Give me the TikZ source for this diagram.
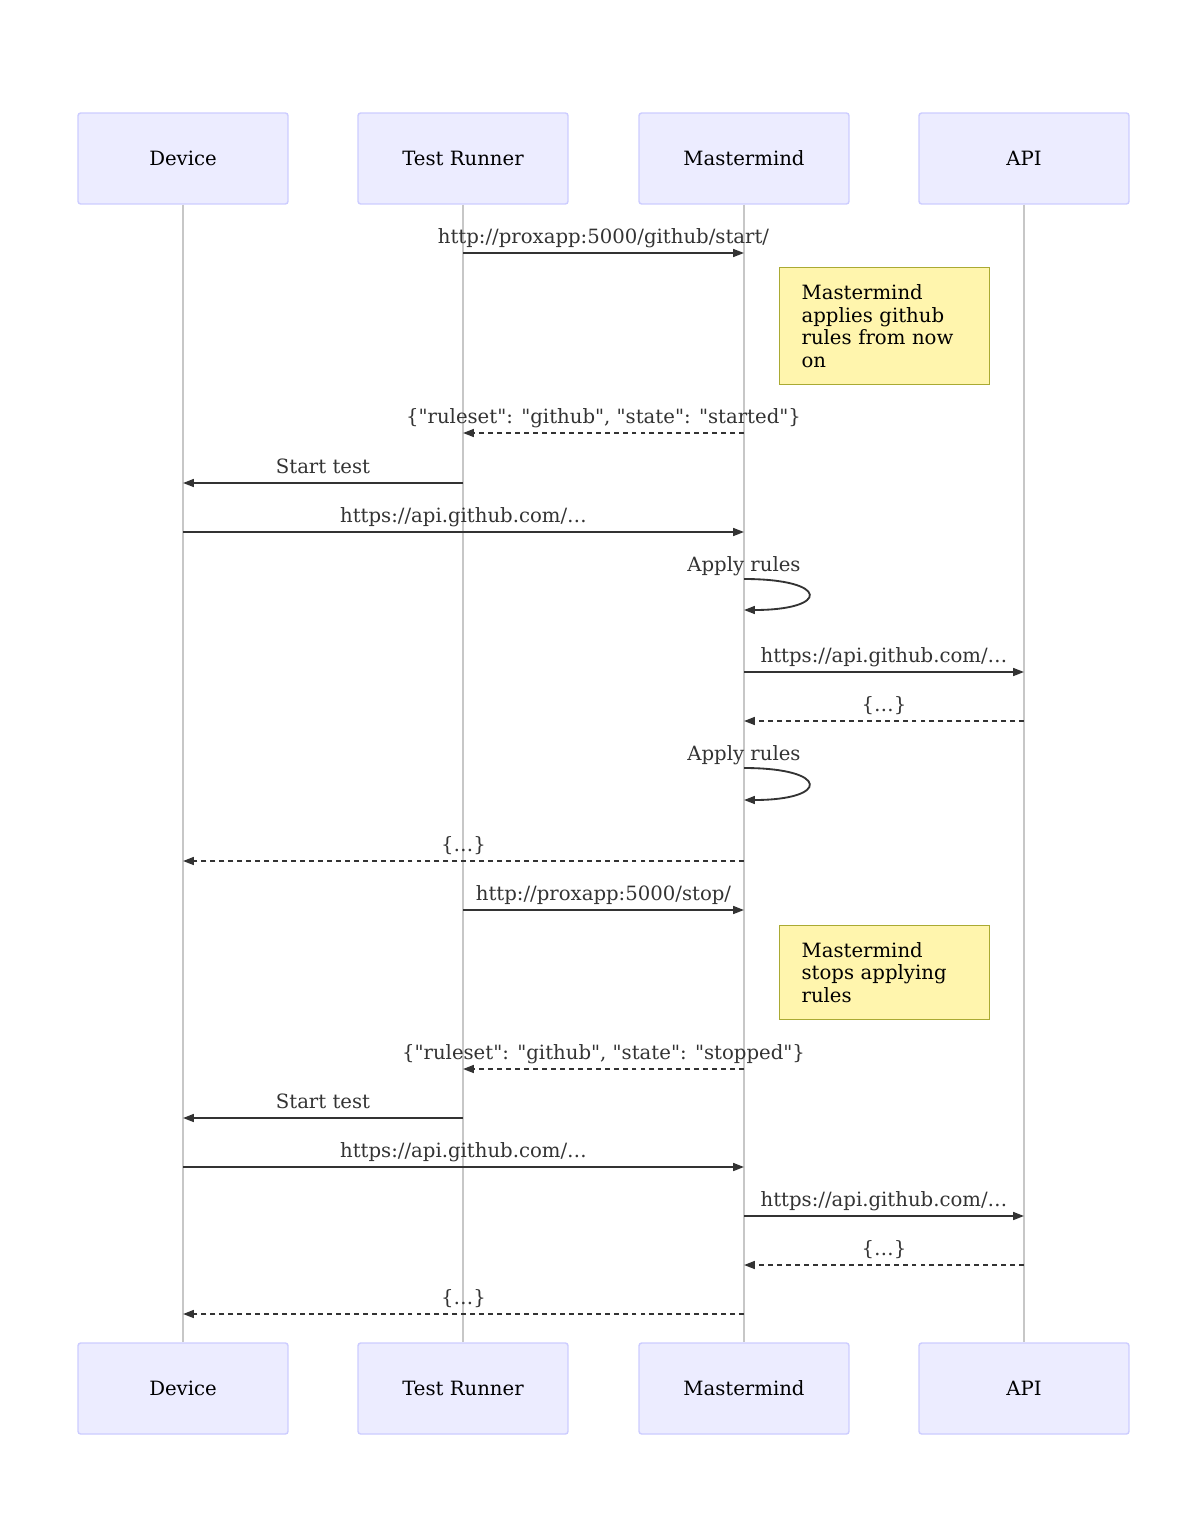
\documentclass[tikz,border=0pt]{standalone}
\usepackage{fontspec}
\setmainfont{DejaVu Serif}[Ligatures=TeXOff]
\usetikzlibrary{arrows.meta}
\definecolor{actorfill}{HTML}{ECECFF}
\definecolor{actorline}{HTML}{CCCCFF}
\definecolor{notefill}{HTML}{FFF5AD}
\definecolor{noteline}{HTML}{AAAA33}
\definecolor{msgcol}{HTML}{333333}
\tikzset{
  actor/.style={draw=actorline, fill=actorfill, line width=0.8pt, rounded corners=1.5pt,
    minimum width=4.2cm, minimum height=1.82cm, font=\fontsize{11.2}{13}\selectfont},
  note/.style={draw=noteline, fill=notefill, line width=0.7pt, anchor=north west,
    minimum width=4.2cm, text width=3.32cm, inner xsep=0.44cm, align=left,
    font=\fontsize{11.2}{12.8}\selectfont},
  lifeline/.style={draw=black!22, line width=0.6pt},
  msg/.style={draw=msgcol, line width=1.05pt, -{Triangle[length=6.2pt,width=4.5pt]}},
  reply/.style={msg, dash pattern=on 2.8pt off 2.3pt},
  lbl/.style={text=msgcol, anchor=base, yshift=5.2pt, inner sep=0pt,
    font=\fontsize{11.2}{13}\selectfont}
}
\begin{document}
\begin{tikzpicture}[x=0.02cm,y=-0.02cm]
  \useasboundingbox (0,0) rectangle (1200,1534);
  % actors, top and bottom
  \foreach \name/\lab/\x in {dev/Device/183, tr/Test Runner/463, mm/Mastermind/744, api/API/1024} {
    \node[actor] (\name) at (\x,158.5) {\lab};
    \node[actor] (\name b) at (\x,1388.5) {\lab};
    \draw[lifeline] (\name) -- (\name b);
  }
  % message rows
  \foreach \y [count=\i] in {253,433,483,532,672,721,861,910,1069,1118,1167,1216,1265,1314}
    \coordinate (m\i) at (0,\y);
  \coordinate (la) at (0,579);
  \coordinate (lb) at (0,610);
  \coordinate (lc) at (0,768);
  \coordinate (ld) at (0,800);

  \draw[msg] (tr |- m1) -- (mm |- m1) node[lbl, midway] {http://proxapp:5000/github/start/};
  \node[note, minimum height=2.34cm] (n1) at (779,267) {Mastermind\\applies github\\rules from now\\on};
  \draw[reply] (mm |- m2) -- (tr |- m2) node[lbl, midway] {\{"ruleset": "github", "state": "started"\}};
  \draw[msg] (tr |- m3) -- (dev |- m3) node[lbl, midway] {Start test};
  \draw[msg] (dev |- m4) -- (mm |- m4) node[lbl, midway] {https://api.github.com/…};
  \node[lbl, yshift=-1.2pt] at (mm |- la) {Apply rules};
  \draw[msg] (mm |- la) .. controls +(86,0) and +(86,0) .. (mm |- lb);
  \draw[msg] (mm |- m5) -- (api |- m5) node[lbl, midway] {https://api.github.com/…};
  \draw[reply] (api |- m6) -- (mm |- m6) node[lbl, midway] {\{…\}};
  \node[lbl, yshift=-1.2pt] at (mm |- lc) {Apply rules};
  \draw[msg] (mm |- lc) .. controls +(86,0) and +(86,0) .. (mm |- ld);
  \draw[reply] (mm |- m7) -- (dev |- m7) node[lbl, midway] {\{…\}};
  \draw[msg] (tr |- m8) -- (mm |- m8) node[lbl, midway] {http://proxapp:5000/stop/};
  \node[note, minimum height=1.88cm] (n2) at (779,925) {Mastermind\\stops applying\\rules};
  \draw[reply] (mm |- m9) -- (tr |- m9) node[lbl, midway] {\{"ruleset": "github", "state": "stopped"\}};
  \draw[msg] (tr |- m10) -- (dev |- m10) node[lbl, midway] {Start test};
  \draw[msg] (dev |- m11) -- (mm |- m11) node[lbl, midway] {https://api.github.com/…};
  \draw[msg] (mm |- m12) -- (api |- m12) node[lbl, midway] {https://api.github.com/…};
  \draw[reply] (api |- m13) -- (mm |- m13) node[lbl, midway] {\{…\}};
  \draw[reply] (mm |- m14) -- (dev |- m14) node[lbl, midway] {\{…\}};
\end{tikzpicture}
\end{document}
